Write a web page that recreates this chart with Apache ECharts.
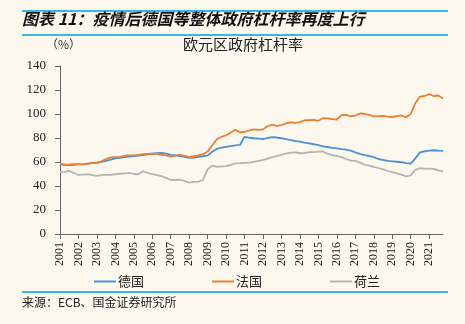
<!DOCTYPE html>
<html><head><meta charset="utf-8">
<script src="https://cdn.jsdelivr.net/npm/echarts@6/dist/echarts.min.js"></script>
<style>html,body{margin:0;padding:0;background:#FCF8EE;}#c{width:465px;height:324px;}</style>
</head><body><div id="c"></div>
<script>
var years = ['2001','2002','2003','2004','2005','2006','2007','2008','2009','2010','2011','2012','2013','2014','2015','2016','2017','2018','2019','2020','2021'];
var quarters = [];
years.forEach(function(y){ ['Q1','Q2','Q3','Q4'].forEach(function(q){ quarters.push(y + q); }); });

var germany = [58.0,57.6,57.5,57.7, 58.0,58.2,58.6,59.0, 59.4,60.0,61.0,62.0, 63.0,63.5,64.0,64.6,
 65.0,65.3,65.8,66.4, 67.0,67.3,67.5,67.0, 66.0,65.6,65.0,64.2, 63.5,63.7,64.3,64.8,
 65.5,68.5,71.0,72.0, 72.6,73.2,73.8,74.2, 81.0,80.2,79.8,79.4, 79.0,80.0,80.8,80.4,
 79.8,79.0,78.2,77.5, 77.0,76.2,75.5,74.8, 74.0,73.0,72.5,71.8, 71.3,70.8,70.4,69.5,
 68.0,66.8,65.8,65.0, 64.0,62.5,61.8,61.0, 60.6,60.2,59.8,59.0, 58.6,63.0,68.0,68.8,
 69.5,69.8,69.4,69.2];
var france = [58.5,57.8,57.9,58.3, 58.2,58.0,58.5,59.2, 59.5,60.5,62.5,63.8, 64.0,64.2,65.2,65.6,
 65.5,66.0,66.6,66.8, 67.0,66.8,66.0,65.6, 64.5,65.3,66.0,65.2, 64.0,64.8,65.5,66.5,
 68.8,74.0,79.0,81.0, 82.3,84.5,86.8,84.8, 85.0,86.3,87.2,86.8, 87.2,89.8,91.2,90.0,
 90.8,92.3,93.0,92.6, 93.2,94.8,94.8,95.2, 94.3,96.6,96.3,95.8, 95.4,99.0,99.2,98.0,
 98.6,100.4,100.2,99.2, 98.0,98.2,98.4,97.8, 97.5,98.2,98.9,97.3, 100.0,109.0,114.5,115.0,
 116.5,115.0,115.4,113.0];
var netherlands = [51.5,51.8,52.5,51.0, 49.2,49.5,49.8,49.0, 48.4,49.0,49.4,49.2, 49.8,50.2,50.6,51.0,
 50.0,49.8,52.2,51.0, 49.8,49.0,48.2,46.8, 45.0,45.0,45.2,44.0, 42.8,43.5,43.6,45.0,
 54.0,57.0,56.0,56.4, 56.6,57.5,58.9,59.0, 59.2,59.4,60.2,61.0, 61.8,62.8,64.0,65.0,
 66.0,67.0,67.8,68.0, 67.3,67.5,68.3,68.2, 68.6,68.8,66.8,65.8, 65.0,64.0,62.5,61.2,
 61.0,59.5,57.8,57.0, 56.0,55.0,53.8,52.5, 51.5,50.5,49.5,48.0, 48.8,53.5,54.8,54.5,
 54.5,54.2,53.0,52.2];
var yTicks = [0,20,40,60,80,100,120,140];

var serif = '"Liberation Serif","DejaVu Serif",serif';
var cjk = '"Noto Sans CJK SC","Noto Sans",sans-serif';
var chart = echarts.init(document.getElementById('c'));
chart.setOption({
  backgroundColor: '#FCF8EE',
  animation: false,
  grid: {left: 60, right: 22, top: 66, bottom: 90},
  graphic: [
    {type:'line', shape:{x1:22,y1:11,x2:448,y2:11}, style:{stroke:'#3CB5E8', lineWidth:2}},
    {type:'line', shape:{x1:22,y1:35,x2:448,y2:35}, style:{stroke:'#3CB5E8', lineWidth:2}},
    {type:'line', shape:{x1:22,y1:292,x2:448,y2:292}, style:{stroke:'#3CB5E8', lineWidth:2}},
    {type:'text', left:22, top:11, style:{text:'图表 11：疫情后德国等整体政府杠杆率再度上行', font:'italic bold 16px ' + cjk, fill:'#111'}},
    {type:'text', left:46, top:38, style:{text:'（%）', font:'12px ' + cjk, fill:'#333'}},
    {type:'text', left:183, top:37, style:{text:'欧元区政府杠杆率', font:'15px ' + cjk, fill:'#222'}},
    {type:'text', left:22, top:296, style:{text:'来源：ECB、国金证券研究所', font:'12px ' + cjk, fill:'#222'}}
  ],
  legend: {
    left: 89, top: 270, itemWidth: 22, itemHeight: 2, itemGap: 68, icon: 'rect',
    textStyle: {fontFamily: cjk, fontSize: 13, color: '#222', padding:[0,0,0,-3]},
    data: ['德国','法国','荷兰']
  },
  xAxis: {
    type: 'category', data: quarters, boundaryGap: false,
    axisLine: {lineStyle: {color: '#666', width: 1}},
    axisTick: {interval: 3, length: 5, lineStyle: {color: '#666'}},
    axisLabel: {interval: 3, rotate: 90, fontFamily: serif, fontSize: 12, color: '#222',
      formatter: function(v){ return v.slice(0,4); }}
  },
  yAxis: {
    type: 'value', min: 0, max: 140, interval: 20,
    axisLine: {show: true, lineStyle: {color: '#666'}},
    axisTick: {show: true, length: 5, lineStyle: {color: '#666'}},
    splitLine: {show: false},
    axisLabel: {fontFamily: serif, fontSize: 13, color: '#222', margin: 14,
      formatter: function(v){ return yTicks.indexOf(v) >= 0 ? String(v) : ''; }}
  },
  series: [
    {name:'德国', type:'line', data: germany, showSymbol:false, lineStyle:{color:'#4A90D9', width:1.8}, itemStyle:{color:'#4A90D9'}},
    {name:'法国', type:'line', data: france, showSymbol:false, lineStyle:{color:'#EE7E33', width:1.8}, itemStyle:{color:'#EE7E33'}},
    {name:'荷兰', type:'line', data: netherlands, showSymbol:false, lineStyle:{color:'#B4B4B4', width:1.8}, itemStyle:{color:'#B4B4B4'}}
  ]
});
</script></body></html>
